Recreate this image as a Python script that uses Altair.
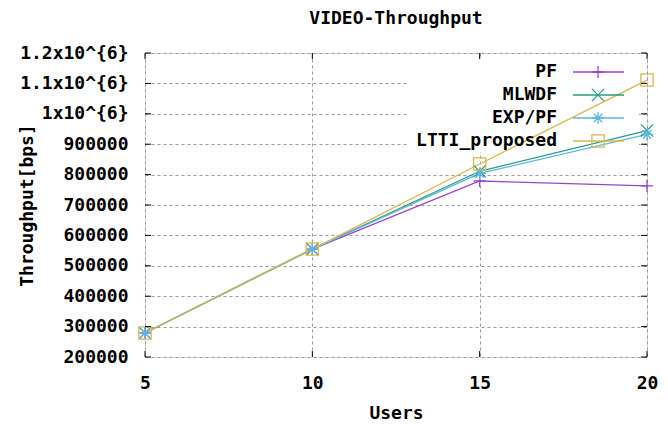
import altair as alt
import pandas as pd

users = [5, 10, 15, 20]
pf = [279000, 555000, 779000, 763000]
mlwdf = [279000, 555000, 811000, 945000]
exp_pf = [279000, 555000, 804000, 932000]
ltti = [279000, 555000, 835000, 1111000]
series = ["PF", "MLWDF", "EXP/PF", "LTTI_proposed"]
colors = ["#9a45c8", "#2a9a84", "#5cb6e4", "#d8b84e"]
shapes = [
    "M-1,0L1,0M0,-1L0,1",
    "M-1,-1L1,1M-1,1L1,-1",
    "M-1,0L1,0M0,-1L0,1M-0.7,-0.7L0.7,0.7M-0.7,0.7L0.7,-0.7",
    "square",
]
y_ticks = list(range(200000, 1200001, 100000))
x_ticks = [5, 10, 15, 20]

rows = []
for name, vals in zip(series, [pf, mlwdf, exp_pf, ltti]):
    for u, v in zip(users, vals):
        rows.append({"users": u, "throughput": v, "series": name})
df = pd.DataFrame(rows)

FONT = "DejaVu Sans Mono"
W, H = 502, 304

xscale = alt.Scale(domain=[5, 20], nice=False, zero=False)
yscale = alt.Scale(domain=[200000, 1200000], nice=False, zero=False)
cscale = alt.Scale(domain=series, range=colors)
sscale = alt.Scale(domain=series, range=shapes)

label_expr = ("datum.value >= 1000000 ? ('' + (datum.value / 1000000) + 'x10^{6}')"
              " : format(datum.value, 'd')")

x_axis = alt.Axis(values=x_ticks, grid=True, gridDash=[3, 3], gridColor="#999999",
                  gridOpacity=1, tickSize=0, ticks=False, domain=False,
                  labelFont=FONT, labelFontSize=18, labelFontWeight="bold",
                  labelColor="black", labelPadding=17, labelFlush=False,
                  title="Users", titleFont=FONT, titleFontSize=18,
                  titleFontWeight="bold", titleColor="black",
                  titleY=56, titleBaseline="middle")
y_axis = alt.Axis(values=y_ticks, grid=True, gridDash=[3, 3], gridColor="#999999",
                  gridOpacity=1, tickSize=0, ticks=False, domain=False,
                  labelFont=FONT, labelFontSize=18, labelFontWeight="bold",
                  labelColor="black", labelPadding=17, labelExpr=label_expr,
                  labelFlush=False, labelBaseline="middle",
                  title="Throughput[bps]", titleFont=FONT, titleFontSize=18,
                  titleFontWeight="bold", titleColor="black",
                  titleX=-118, titleY=H / 2, titleAngle=-90,
                  titleBaseline="middle", titleAlign="center")

X = alt.X("users:Q", scale=xscale, axis=x_axis)
Y = alt.Y("throughput:Q", scale=yscale, axis=y_axis)

# white key background (hides the grid behind the key, as in the original)
bg_df = pd.DataFrame({"users": [5], "throughput": [200000]})
legend_bg = alt.Chart(bg_df).mark_rect(color="white").encode(
    x=alt.value(262), x2=alt.value(494), y=alt.value(5), y2=alt.value(99)
)

lines = alt.Chart(df).mark_line(strokeWidth=1.3).encode(
    x=X, y=Y,
    color=alt.Color("series:N", scale=cscale, legend=None),
)
points = alt.Chart(df).mark_point(filled=False, strokeWidth=1.3, size=150, opacity=1).encode(
    x=X, y=Y,
    color=alt.Color("series:N", scale=cscale, legend=None),
    shape=alt.Shape("series:N", scale=sscale, legend=None),
)

ydf = pd.DataFrame({"throughput": y_ticks})
xdf = pd.DataFrame({"users": x_ticks})
tick_style = dict(color="black", strokeWidth=1)
yt_left = alt.Chart(ydf).mark_rule(**tick_style).encode(
    y=Y, x=alt.value(0), x2=alt.value(6))
yt_right = alt.Chart(ydf).mark_rule(**tick_style).encode(
    y=Y, x=alt.value(W - 6), x2=alt.value(W))
xt_bottom = alt.Chart(xdf).mark_rule(**tick_style).encode(
    x=X, y=alt.value(H - 6), y2=alt.value(H))
xt_top = alt.Chart(xdf).mark_rule(**tick_style).encode(
    x=X, y=alt.value(0), y2=alt.value(6))

main = alt.layer(lines.mark_line(opacity=0), legend_bg, lines, points,
                 yt_left, yt_right, xt_bottom, xt_top)

ldf = pd.DataFrame({"series": series})
lrow = alt.Scale(type="point", domain=series, range=[19, 88], padding=0)
LY = alt.Y("series:N", scale=lrow, axis=None)
leg_text = alt.Chart(ldf).mark_text(
    align="right", baseline="middle", font=FONT, fontSize=18, fontWeight="bold",
    color="black").encode(x=alt.value(412), y=LY, text="series:N")
leg_line = alt.Chart(ldf).mark_rule(strokeWidth=1.3).encode(
    x=alt.value(428), x2=alt.value(479), y=LY,
    color=alt.Color("series:N", scale=cscale, legend=None))
leg_pt = alt.Chart(ldf).mark_point(filled=False, strokeWidth=1.3, size=150, opacity=1).encode(
    x=alt.value(453), y=LY,
    color=alt.Color("series:N", scale=cscale, legend=None),
    shape=alt.Shape("series:N", scale=sscale, legend=None))

legend = alt.layer(leg_line, leg_pt, leg_text)

chart = alt.layer(main, legend).resolve_scale(y="independent").properties(
    width=W, height=H,
    title=alt.Title("VIDEO-Throughput", font=FONT, fontSize=18, fontWeight="bold",
                    color="black", anchor="middle", offset=16),
    autosize=alt.AutoSizeParams(type="none"),
    padding={"left": 137, "top": 45, "right": 13, "bottom": 70},
).configure_view(stroke="black", strokeWidth=1.2).configure(background="white")

chart.save("out.html", embed_options={"renderer": "svg", "actions": False})
